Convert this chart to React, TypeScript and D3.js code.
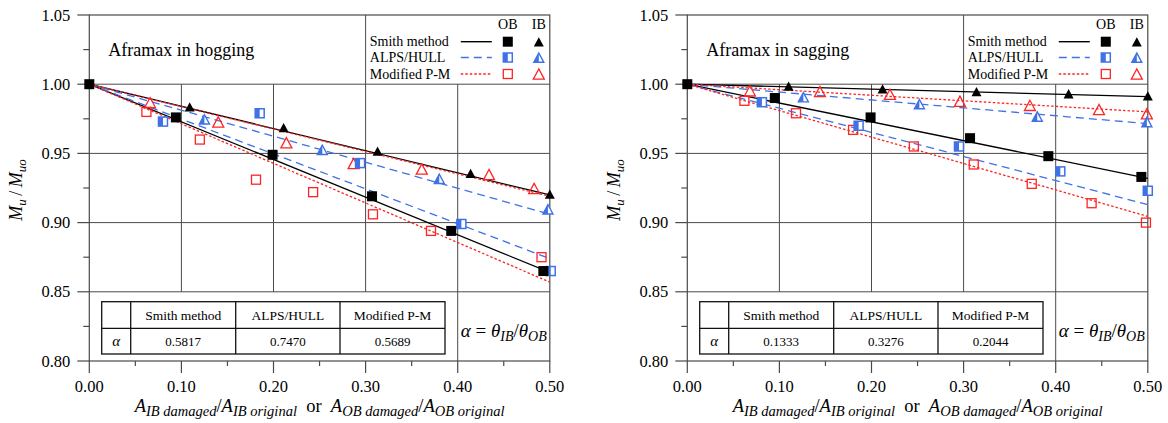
import React from "react";
import * as d3 from "d3";

// ---- data ----
const xTicks = [0, 0.1, 0.2, 0.3, 0.4, 0.5];
const yTicks = [0.8, 0.85, 0.9, 0.95, 1.0, 1.05];
const methods = ["Smith method", "ALPS/HULL", "Modified P-M"];

// hogging
const hogSmithOB = [[0, 1], [0.094, 0.976], [0.199, 0.949], [0.307, 0.919], [0.393, 0.894], [0.493, 0.865]];
const hogSmithIB = [[0.109, 0.983], [0.211, 0.968], [0.313, 0.951], [0.414, 0.935], [0.5, 0.92]];
const hogAlpsOB = [[0.08, 0.973], [0.185, 0.979], [0.294, 0.943], [0.404, 0.899], [0.501, 0.865]];
const hogAlpsIB = [[0.125, 0.974], [0.253, 0.952], [0.38, 0.931], [0.498, 0.909]];
const hogPmOB = [[0.062, 0.98], [0.12, 0.96], [0.181, 0.931], [0.243, 0.922], [0.308, 0.906], [0.371, 0.894], [0.491, 0.875]];
const hogPmIB = [[0.066, 0.986], [0.14, 0.972], [0.214, 0.957], [0.287, 0.942], [0.361, 0.938], [0.434, 0.934], [0.483, 0.924]];
// fitted lines, value at x = 0.5 (all start at 1.0)
const hogFitOB = [0.864, 0.874, 0.857];
const hogFitIB = [0.92, 0.906, 0.919];
const hogAlpha = ["0.5817", "0.7470", "0.5689"];

// sagging
const sagSmithOB = [[0, 1], [0.095, 0.99], [0.199, 0.976], [0.307, 0.961], [0.392, 0.948], [0.493, 0.933]];
const sagSmithIB = [[0.11, 0.998], [0.212, 0.996], [0.314, 0.994], [0.414, 0.9925], [0.5, 0.991]];
const sagAlpsOB = [[0.081, 0.987], [0.186, 0.97], [0.295, 0.955], [0.405, 0.937], [0.5, 0.923]];
const sagAlpsIB = [[0.126, 0.99], [0.252, 0.985], [0.38, 0.976], [0.499, 0.972]];
const sagPmOB = [[0.062, 0.988], [0.118, 0.979], [0.18, 0.967], [0.246, 0.955], [0.311, 0.942], [0.374, 0.928], [0.439, 0.914], [0.498, 0.9]];
const sagPmIB = [[0.068, 0.9945], [0.144, 0.994], [0.22, 0.992], [0.296, 0.987], [0.372, 0.984], [0.447, 0.981], [0.499, 0.978]];
const sagFitOB = [0.932, 0.913, 0.9045];
const sagFitIB = [0.991, 0.9715, 0.98];
const sagAlpha = ["0.1333", "0.3276", "0.2044"];

const SERIF = "Liberation Serif, DejaVu Serif, serif";
const BLUE = "#3f72e6";
const RED = "#ff2424";
const GRID = "#4a4a4a";
const colors = ["#000", BLUE, RED];
const dashes = [null, "8,5", "2.5,2"];

function Marker({ cx, cy, m, ib }) {
  const c = colors[m];
  if (!ib) {
    if (m === 0) return <rect x={cx - 5} y={cy - 5} width={10} height={10} fill="#000" />;
    if (m === 1)
      return (
        <g>
          <rect x={cx - 4.5} y={cy - 4.5} width={9} height={9} fill="#fff" stroke={c} strokeWidth={1.5} />
          <rect x={cx - 4.5} y={cy - 4.5} width={4.5} height={9} fill={c} />
        </g>
      );
    return <rect x={cx - 4.5} y={cy - 4.5} width={9} height={9} fill="none" stroke={c} strokeWidth={1.3} />;
  }
  const s = m === 2 ? 11 : 10;
  const top = cy - s * 0.55, bot = cy + s * 0.38;
  const tri = `M${cx},${top}L${cx - s / 2},${bot}L${cx + s / 2},${bot}Z`;
  if (m === 0) return <path d={tri} fill="#000" />;
  if (m === 1)
    return (
      <g>
        <path d={tri} fill="#fff" stroke={c} strokeWidth={1.4} />
        <path d={`M${cx},${top}L${cx - s / 2},${bot}L${cx},${bot}Z`} fill={c} />
      </g>
    );
  return <path d={tri} fill="none" stroke={c} strokeWidth={1.3} />;
}

function Panel({ x0, title, ob, ib, fitOB, fitIB, alphas }) {
  const x = d3.scaleLinear().domain([0, 0.5]).range([x0, x0 + 460.5]);
  const y = d3.scaleLinear().domain([0.8, 1.05]).range([361, 15]);
  const line = d3.line().x((d) => x(d[0])).y((d) => y(d[1]));
  const right = x(0.5);
  const minorX = d3.range(0.05, 0.5, 0.1);
  const minorY = d3.range(0.825, 1.05, 0.05);
  const vSeg = [[0.1, 0.85, 1.0], [0.2, 0.85, 1.0], [0.3, 0.85, 1.05], [0.4, 0.8, 1.0]];
  const cols = [12.4, 41.4, 146.4, 250.7, 355.7].map((d) => x0 + d);
  const tTop = 301.7, tMid = 328.3, tBot = 354;
  const rows = [41.7, 57.5, 74];

  return (
    <g style={{ fontFamily: SERIF }}>
      {/* grid */}
      {[0.85, 0.9, 0.95, 1.0].map((v) => (
        <line key={v} x1={x(0)} x2={right} y1={y(v)} y2={y(v)} stroke={GRID} strokeWidth={1} />
      ))}
      {vSeg.map(([v, a, b]) => (
        <line key={v} x1={x(v)} x2={x(v)} y1={y(a)} y2={y(b)} stroke={GRID} strokeWidth={1} />
      ))}
      <rect x={x(0)} y={y(1.05)} width={right - x(0)} height={y(0.8) - y(1.05)} fill="none" stroke={GRID} strokeWidth={1.2} />

      {/* ticks */}
      {yTicks.map((v) => (
        <g key={v}>
          <line x1={x(0) - 12} x2={x(0)} y1={y(v)} y2={y(v)} stroke={GRID} strokeWidth={1.2} />
          <text x={x(0) - 19} y={y(v) + 5.5} textAnchor="end" fontSize={16.5}>{v.toFixed(2)}</text>
        </g>
      ))}
      {minorY.map((v) => (
        <line key={v} x1={x(0) - 6} x2={x(0)} y1={y(v)} y2={y(v)} stroke={GRID} strokeWidth={1.2} />
      ))}
      {xTicks.map((v) => (
        <g key={v}>
          <line x1={x(v)} x2={x(v)} y1={y(0.8)} y2={y(0.8) + 12} stroke={GRID} strokeWidth={1.2} />
          <text x={x(v)} y={392} textAnchor="middle" fontSize={16.5}>{v.toFixed(2)}</text>
        </g>
      ))}
      {minorX.map((v) => (
        <line key={v} x1={x(v)} x2={x(v)} y1={y(0.8)} y2={y(0.8) + 5} stroke={GRID} strokeWidth={1.2} />
      ))}

      {/* axis labels */}
      <text transform={`translate(${x0 - 67},190) rotate(-90)`} textAnchor="middle" fontSize={18} fontStyle="italic">
        <tspan>M</tspan><tspan fontSize={13} dy={4}>u</tspan><tspan dy={-4} fontStyle="normal">{"\u2009/\u2009"}</tspan>
        <tspan>M</tspan><tspan fontSize={13} dy={4}>uo</tspan>
      </text>
      <text x={(x(0) + right) / 2} y={412} textAnchor="middle" fontSize={18.5}>
        <tspan fontStyle="italic">A</tspan><tspan fontStyle="italic" fontSize={14.5} dy={4}>IB damaged</tspan>
        <tspan dy={-4}>/</tspan><tspan fontStyle="italic">A</tspan><tspan fontStyle="italic" fontSize={14.5} dy={4}>IB original</tspan>
        <tspan dy={-4}>{"\u2002or\u2002"}</tspan>
        <tspan fontStyle="italic">A</tspan><tspan fontStyle="italic" fontSize={14.5} dy={4}>OB damaged</tspan>
        <tspan dy={-4}>/</tspan><tspan fontStyle="italic">A</tspan><tspan fontStyle="italic" fontSize={14.5} dy={4}>OB original</tspan>
      </text>

      {/* title */}
      <text x={x0 + 19} y={56} fontSize={18}>{title}</text>

      {/* fitted lines */}
      {methods.map((_, m) => (
        <g key={m} fill="none" stroke={colors[m]} strokeWidth={1.3} strokeDasharray={dashes[m] || undefined}>
          <path d={line([[0, 1], [0.5, fitOB[m]]])} />
          <path d={line([[0, 1], [0.5, fitIB[m]]])} />
        </g>
      ))}

      {/* markers: draw P-M, ALPS, then Smith on top */}
      {[2, 1, 0].map((m) => (
        <g key={m}>
          {ib[m].map((d, i) => <Marker key={"i" + i} cx={x(d[0])} cy={y(d[1])} m={m} ib={true} />)}
          {ob[m].map((d, i) => <Marker key={"o" + i} cx={x(d[0])} cy={y(d[1])} m={m} ib={false} />)}
        </g>
      ))}

      {/* legend */}
      <text x={right - 42} y={28.5} textAnchor="middle" fontSize={14}>OB</text>
      <text x={right - 11} y={28.5} textAnchor="middle" fontSize={14}>IB</text>
      {methods.map((name, m) => (
        <g key={name}>
          <text x={right - 180} y={rows[m] + 4.5} fontSize={14}>{name}</text>
          <line x1={right - 89} x2={right - 58} y1={rows[m]} y2={rows[m]} stroke={colors[m]} strokeWidth={1.4}
            strokeDasharray={dashes[m] || undefined} />
          <Marker cx={right - 42} cy={rows[m]} m={m} ib={false} />
          <Marker cx={right - 11} cy={rows[m] + 1} m={m} ib={true} />
        </g>
      ))}

      {/* table */}
      <g fill="none" stroke="#111" strokeWidth={1.3}>
        <rect x={cols[0]} y={tTop} width={cols[4] - cols[0]} height={tBot - tTop} />
        <line x1={cols[0]} x2={cols[4]} y1={tMid} y2={tMid} />
        {cols.slice(1, 4).map((c) => <line key={c} x1={c} x2={c} y1={tTop} y2={tBot} />)}
      </g>
      <text x={(cols[0] + cols[1]) / 2} y={346} textAnchor="middle" fontSize={15} fontStyle="italic">α</text>
      {methods.map((name, m) => (
        <g key={name}>
          <text x={(cols[m + 1] + cols[m + 2]) / 2} y={319.5} textAnchor="middle" fontSize={13.5}>{name}</text>
          <text x={(cols[m + 1] + cols[m + 2]) / 2} y={346} textAnchor="middle" fontSize={13}>{alphas[m]}</text>
        </g>
      ))}
      <text x={x(0.45)} y={337} textAnchor="middle" fontSize={19} fontStyle="italic">
        <tspan>α</tspan><tspan fontStyle="normal">{" = "}</tspan><tspan>θ</tspan>
        <tspan fontSize={14} dy={4}>IB</tspan><tspan dy={-4} fontStyle="normal">/</tspan><tspan>θ</tspan>
        <tspan fontSize={14} dy={4}>OB</tspan>
      </text>
    </g>
  );
}

export default function App() {
  return (
    <svg width={1168} height={423} style={{ position: "absolute", left: 0, top: 0, background: "#fff" }}>
      <Panel x0={89.3} title="Aframax in hogging"
        ob={[hogSmithOB, hogAlpsOB, hogPmOB]} ib={[hogSmithIB, hogAlpsIB, hogPmIB]}
        fitOB={hogFitOB} fitIB={hogFitIB} alphas={hogAlpha} />
      <Panel x0={687.3} title="Aframax in sagging"
        ob={[sagSmithOB, sagAlpsOB, sagPmOB]} ib={[sagSmithIB, sagAlpsIB, sagPmIB]}
        fitOB={sagFitOB} fitIB={sagFitIB} alphas={sagAlpha} />
    </svg>
  );
}
